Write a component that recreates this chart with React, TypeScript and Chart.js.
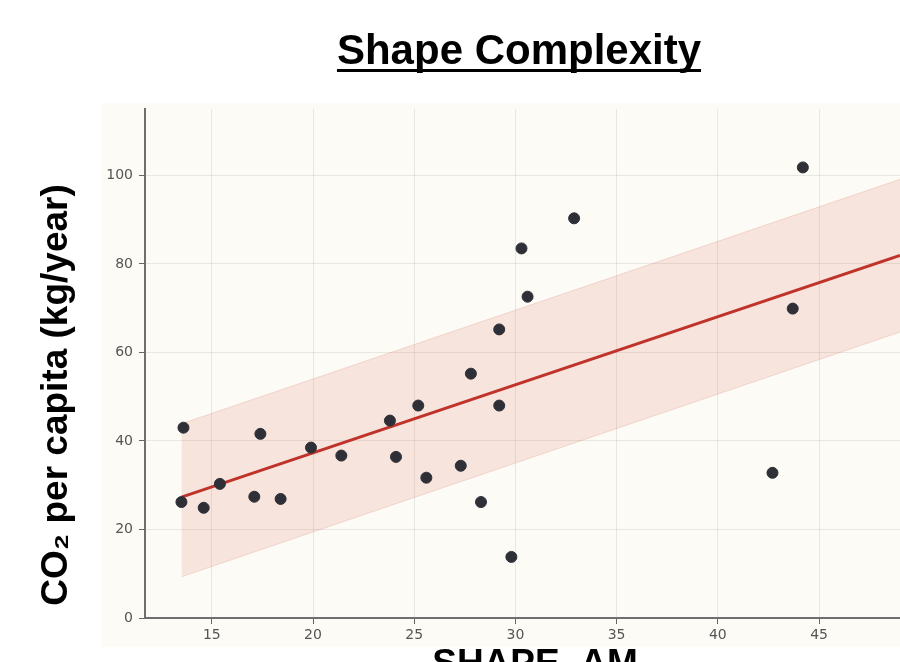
import React, { useEffect, useRef } from "react";
import { Chart, registerables } from "chart.js";

Chart.register(...registerables);

// ---- data ----
const shapeAM = [13.5, 13.6, 14.6, 15.4, 17.1, 17.4, 18.4, 19.9, 21.4, 23.8, 24.1, 25.2, 25.6, 27.3, 27.8, 28.3, 29.2, 29.2, 29.8, 30.3, 30.6, 32.9, 42.7, 43.7, 44.2];
const co2PerCapita = [26.2, 43.0, 24.9, 30.3, 27.4, 41.6, 26.9, 38.5, 36.7, 44.6, 36.4, 48.0, 31.7, 34.4, 55.2, 26.2, 65.2, 48.0, 13.8, 83.5, 72.6, 90.3, 32.8, 69.9, 101.8];
const fitX = [13.5, 49];
const fitY = [27.3, 81.9];
const bandUpper = [43.9, 99.1];
const bandLower = [9.3, 64.6];
const xTicks = [15, 20, 25, 30, 35, 40, 45];
const yTicks = [0, 20, 40, 60, 80, 100];

const TITLE = "Shape Complexity";
const X_TITLE = "SHAPE_AM";
const Y_TITLE = "CO₂ per capita (kg/year)";

const W = 900;
const H = 700;

export default function App() {
  const ref = useRef<HTMLCanvasElement | null>(null);

  useEffect(() => {
    const canvas = ref.current;
    if (!canvas) return;

    const decorPlugin = {
      id: "decor",
      beforeDraw(chart: any) {
        const { ctx, chartArea } = chart;
        ctx.save();
        ctx.fillStyle = "#fcfbf6";
        ctx.fillRect(chartArea.left - 44, chartArea.top - 6, chartArea.right - chartArea.left + 44, chartArea.bottom - chartArea.top + 35);
        ctx.restore();
      },
      afterDraw(chart: any) {
        const { ctx, chartArea } = chart;
        ctx.save();
        ctx.fillStyle = "#000";
        // title
        ctx.font = "bold 42px 'Liberation Sans', Arial, sans-serif";
        ctx.textAlign = "center";
        ctx.textBaseline = "alphabetic";
        const tx = 519;
        ctx.fillText(TITLE, tx, 64);
        const tw = ctx.measureText(TITLE).width;
        ctx.fillRect(tx - tw / 2, 69, tw, 3);
        // x title
        ctx.font = "bold 37px 'Liberation Sans', Arial, sans-serif";
        ctx.fillText(X_TITLE, 535, chartArea.bottom + 57);
        // y title
        ctx.translate(67, 395);
        ctx.rotate(-Math.PI / 2);
        ctx.fillText(Y_TITLE, 0, 0);
        ctx.restore();
      },
    };

    const chart = new Chart(canvas, {
      type: "scatter",
      data: {
        datasets: [
          {
            label: "Cities",
            data: shapeAM.map((x, i) => ({ x, y: co2PerCapita[i] })),
            backgroundColor: "#2f2f37",
            borderColor: "#2f2f37",
            pointRadius: 5.5,
            pointHoverRadius: 5.5,
          },
          {
            label: "Fit",
            data: fitX.map((x, i) => ({ x, y: fitY[i] })),
            showLine: true,
            borderColor: "#c0332b",
            borderWidth: 3,
            pointRadius: 0,
            fill: false,
          },
          {
            label: "Upper",
            data: fitX.map((x, i) => ({ x, y: bandUpper[i] })),
            showLine: true,
            borderColor: "rgba(215,90,70,0.18)",
            borderWidth: 1,
            backgroundColor: "rgba(215,90,70,0.14)",
            pointRadius: 0,
            fill: "+1",
          },
          {
            label: "Lower",
            data: fitX.map((x, i) => ({ x, y: bandLower[i] })),
            showLine: true,
            borderColor: "rgba(215,90,70,0.18)",
            borderWidth: 1,
            pointRadius: 0,
            fill: false,
          },
        ],
      },
      options: {
        responsive: false,
        animation: false,
        devicePixelRatio: 1,
        layout: { padding: { top: 109, left: 0, right: 0, bottom: 0 }, autoPadding: false },
        plugins: {
          legend: { display: false },
          tooltip: { enabled: false },
          title: { display: false },
        },
        scales: {
          x: {
            type: "linear",
            min: 11.7,
            max: 49,
            afterBuildTicks: (s: any) => {
              s.ticks = xTicks.map((v) => ({ value: v }));
            },
            afterFit: (s: any) => {
              s.height = H - 618;
            },
            grid: {
              color: "rgba(0,0,0,0.08)",
              tickColor: "#666",
              tickLength: 6,
              drawTicks: true,
            },
            border: { color: "#6e6e6e", width: 2 },
            ticks: {
              color: "#555",
              font: { family: "'DejaVu Sans', sans-serif", size: 14 },
              padding: 3,
              maxRotation: 0,
            },
          },
          y: {
            type: "linear",
            min: 0,
            max: 115,
            afterBuildTicks: (s: any) => {
              s.ticks = yTicks.map((v) => ({ value: v }));
            },
            afterFit: (s: any) => {
              s.width = 145;
            },
            grid: {
              color: "rgba(0,0,0,0.08)",
              tickColor: "#666",
              tickLength: 6,
              drawTicks: true,
            },
            border: { color: "#6e6e6e", width: 2 },
            ticks: {
              color: "#555",
              font: { family: "'DejaVu Sans', sans-serif", size: 14 },
              padding: 6,
            },
          },
        },
      },
      plugins: [decorPlugin],
    } as any);

    return () => chart.destroy();
  }, []);

  return (
    <div style={{ position: "fixed", left: 0, top: 0, width: W, height: H, background: "#fff" }}>
      <canvas ref={ref} width={W} height={H} style={{ width: W, height: H, display: "block" }} />
    </div>
  );
}
